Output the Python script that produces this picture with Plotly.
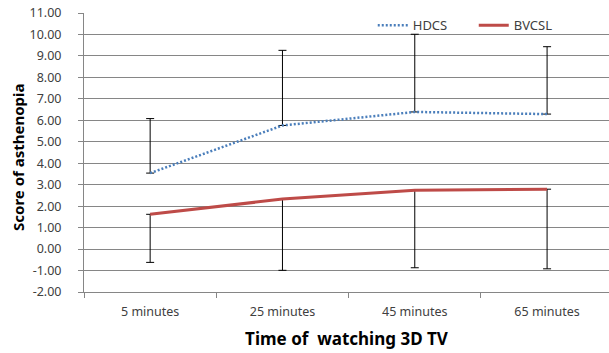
import plotly.graph_objects as go

categories = ["5 minutes", "25 minutes", "45 minutes", "65 minutes"]
hdcs_mean = [3.54, 5.76, 6.39, 6.29]
hdcs_sd = [2.54, 3.50, 3.62, 3.14]
bvcsl_mean = [1.62, 2.33, 2.74, 2.79]
bvcsl_sd = [2.24, 3.32, 3.61, 3.71]
y_ticks = [-2, -1, 0, 1, 2, 3, 4, 5, 6, 7, 8, 9, 10, 11]

font_family = "Noto Sans, DejaVu Sans, sans-serif"

fig = go.Figure()
fig.add_trace(go.Scatter(
    x=categories, y=hdcs_mean, name="HDCS", mode="lines",
    line=dict(color="#4A7EBB", width=2.5, dash="2px,2px"),
    error_y=dict(type="data", array=hdcs_sd, arrayminus=[0]*4, symmetric=False,
                 color="#000000", thickness=1, width=4),
))
fig.add_trace(go.Scatter(
    x=categories, y=bvcsl_mean, name="BVCSL", mode="lines",
    line=dict(color="#BE4B48", width=3),
    error_y=dict(type="data", array=[0]*4, arrayminus=bvcsl_sd, symmetric=False,
                 color="#000000", thickness=1, width=4),
))

fig.update_layout(
    width=609, height=353,
    margin=dict(l=84, r=0, t=13, b=61),
    paper_bgcolor="white", plot_bgcolor="white",
    font=dict(family=font_family, size=12.5, color="#404040"),
    showlegend=True,
    legend=dict(orientation="h", x=0.55, y=1.01, xanchor="left", yanchor="top",
                bgcolor="rgba(0,0,0,0)", font=dict(size=13, color="#404040"),
                itemwidth=30, tracegroupgap=0,
                entrywidth=56, entrywidthmode="pixels"),
    annotations=[dict(
        text="Score of asthenopia", textangle=-90,
        xref="paper", yref="paper", x=-0.1257, y=0.484,
        xanchor="center", yanchor="middle", showarrow=False,
        font=dict(size=15, color="#000000", family=font_family, weight="bold"),
    )],
)
fig.update_xaxes(
    type="category", range=[-0.5, 3.468], automargin=False,
    showline=True, linecolor="#868686", linewidth=1,
    ticks="outside", tickson="boundaries", ticklen=5, tickcolor="#868686",
    ticklabelstandoff=8,
    showgrid=False,
    tickfont=dict(size=12.5, color="#404040"),
    title=dict(text="Time of  watching 3D TV", font=dict(size=17, color="#000000", family=font_family, weight="bold"), standoff=14),
)
fig.update_yaxes(
    range=[-2, 11.0001], tickvals=y_ticks, ticktext=[f"{v:.2f}" for v in y_ticks],
    automargin=False, ticklabeloverflow="allow",
    showline=True, linecolor="#868686", linewidth=1,
    ticks="outside", ticklen=5, tickcolor="#868686",
    ticklabelstandoff=14,
    showgrid=True, gridcolor="#868686", gridwidth=1,
    zeroline=False,
    tickfont=dict(size=12.5, color="#404040"),
)

fig.write_html("out.html", config={"displayModeBar": False},
               post_script="document.body.style.margin='0';document.body.style.overflow='hidden';")
